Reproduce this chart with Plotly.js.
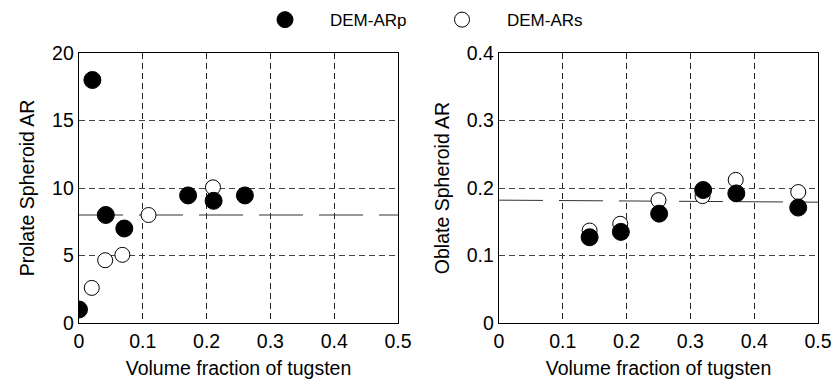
<!DOCTYPE html>
<html>
<head>
<meta charset="utf-8">
<script src="https://cdn.plot.ly/plotly-3.0.1.min.js"></script>
<style>html,body{margin:0;padding:0;background:#fff;}#chart{width:834px;height:379px;}</style>
</head>
<body>
<div id="chart"></div>
<script>
// Left panel: prolate spheroid aspect ratio
const prolateX_p = [0, 0.021, 0.042, 0.071, 0.171, 0.211, 0.260];
const prolateY_p = [1.0, 18.0, 8.0, 7.0, 9.45, 9.05, 9.45];
const prolateX_s = [0.020, 0.041, 0.068, 0.109, 0.210];
const prolateY_s = [2.6, 4.65, 5.05, 8.0, 10.05];
const prolateRefX = [0, 0.5];
const prolateRefY = [8, 8];

// Right panel: oblate spheroid aspect ratio
const oblateX_p = [0.142, 0.191, 0.251, 0.320, 0.372, 0.469];
const oblateY_p = [0.127, 0.135, 0.162, 0.197, 0.192, 0.171];
const oblateX_s = [0.142, 0.190, 0.250, 0.319, 0.371, 0.469];
const oblateY_s = [0.137, 0.147, 0.182, 0.188, 0.212, 0.194];
const oblateRefX = [0, 0.5];
const oblateRefY = [0.182, 0.179];

const seriesNames = ['DEM-ARp', 'DEM-ARs'];
const xTicks = [0, 0.1, 0.2, 0.3, 0.4, 0.5];
const xTickText = ['0', '0.1', '0.2', '0.3', '0.4', '0.5'];
const yTicksLeft = [0, 5, 10, 15, 20];
const yTicksRight = [0, 0.1, 0.2, 0.3, 0.4];
const yTickTextRight = ['0', '0.1', '0.2', '0.3', '0.4'];

const FONT = 'Liberation Sans, Arial, sans-serif';
const refLine = {color: '#333', width: 1, dash: '44px,16px'};
const filledMarker = {symbol: 'circle', size: 17, color: '#000', line: {color: '#000', width: 1}};
const openMarker = {symbol: 'circle', size: 15, color: '#fff', line: {color: '#000', width: 1}};

const traces = [
  {x: prolateRefX, y: prolateRefY, mode: 'lines', line: refLine, showlegend: false, xaxis: 'x', yaxis: 'y', hoverinfo: 'skip'},
  {x: oblateRefX, y: oblateRefY, mode: 'lines', line: refLine, showlegend: false, xaxis: 'x2', yaxis: 'y2', hoverinfo: 'skip'},
  {x: prolateX_s, y: prolateY_s, mode: 'markers', marker: openMarker, name: seriesNames[1], showlegend: false, xaxis: 'x', yaxis: 'y'},
  {x: prolateX_p, y: prolateY_p, mode: 'markers', marker: filledMarker, name: seriesNames[0], showlegend: true, xaxis: 'x', yaxis: 'y'},
  {x: oblateX_s, y: oblateY_s, mode: 'markers', marker: openMarker, name: seriesNames[1], showlegend: true, xaxis: 'x2', yaxis: 'y2'},
  {x: oblateX_p, y: oblateY_p, mode: 'markers', marker: filledMarker, name: seriesNames[0], showlegend: false, xaxis: 'x2', yaxis: 'y2'}
];

const xCommon = {
  range: [0, 0.5], tickvals: xTicks, ticktext: xTickText,
  showline: true, mirror: true, linecolor: '#000', linewidth: 1.3,
  showgrid: true, gridcolor: '#222', griddash: '6px,4px', gridwidth: 1,
  zeroline: false, ticks: '', tickfont: {family: FONT, size: 19.5, color: '#000'},
  title: {text: 'Volume fraction of tugsten', font: {family: FONT, size: 19.5, color: '#000'}, standoff: 11},
  automargin: false
};
const yCommon = {
  showline: true, mirror: true, linecolor: '#000', linewidth: 1.3,
  showgrid: true, gridcolor: '#444', griddash: '6px,4px', gridwidth: 1,
  zeroline: false, ticks: '', tickfont: {family: FONT, size: 19.5, color: '#000'},
  automargin: false
};

const layout = {
  width: 834, height: 379,
  margin: {l: 0, r: 0, t: 0, b: 0},
  paper_bgcolor: '#fff', plot_bgcolor: '#fff',
  font: {family: FONT, color: '#000'},
  showlegend: true,
  legend: {orientation: 'h', x: 0.5, xanchor: 'center', y: 0.947, yanchor: 'middle',
           font: {family: FONT, size: 17, color: '#000'}, itemwidth: 80, entrywidth: 82, traceorder: 'normal'},
  xaxis: Object.assign({}, xCommon, {domain: [79/834, 398/834], anchor: 'y'}),
  xaxis2: Object.assign({}, xCommon, {domain: [499/834, 818/834], anchor: 'y2'}),
  yaxis: Object.assign({}, yCommon, {domain: [1 - 323/379, 1 - 53/379], anchor: 'x', range: [0, 20], tickvals: yTicksLeft,
    title: {text: 'Prolate Spheroid AR', font: {family: FONT, size: 19.5, color: '#000'}, standoff: 12}}),
  yaxis2: Object.assign({}, yCommon, {domain: [1 - 323/379, 1 - 53/379], anchor: 'x2', range: [0, 0.4], tickvals: yTicksRight, ticktext: yTickTextRight,
    title: {text: 'Oblate Spheroid AR', font: {family: FONT, size: 19.5, color: '#000'}, standoff: 12}})
};

Plotly.newPlot('chart', traces, layout, {staticPlot: true, displayModeBar: false});
</script>
</body>
</html>
